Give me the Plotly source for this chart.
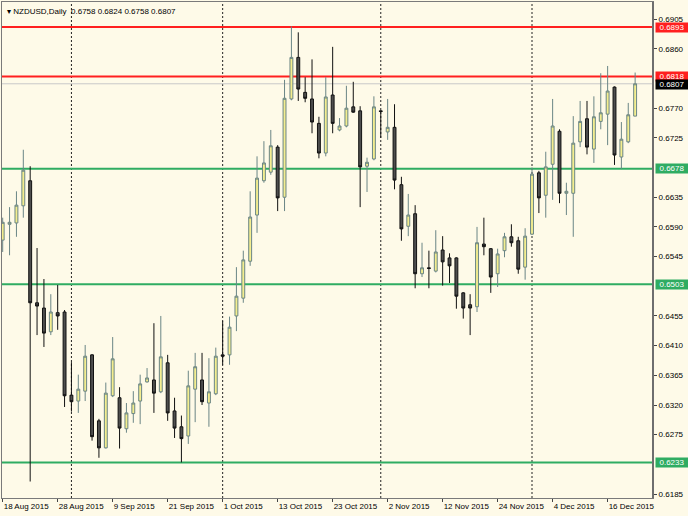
import plotly.graph_objects as go

symbol = "NZDUSD,Daily"
bars = list(range(93))
opens = [0.6570,0.6594,0.6596,0.6622,0.6660,0.6475,0.6467,0.6431,0.6460,0.6461,
         0.6335,0.6326,0.6341,0.6396,0.6296,0.6255,0.6334,0.6331,0.6284,0.6307,
         0.6326,0.6355,0.6358,0.6340,0.6384,0.6311,0.6287,0.6273,0.6344,0.6358,
         0.6323,0.6337,0.6396,0.6396,0.6455,0.6482,0.6538,0.6608,0.6660,0.6673,
         0.6711,0.6635,0.6784,0.6847,0.6794,0.6784,0.6747,0.6702,0.6790,0.6737,
         0.6743,0.6772,0.6766,0.6682,0.6693,0.6766,0.6734,0.6741,0.6654,0.6591,
         0.6610,0.6519,0.6528,0.6523,0.6555,0.6543,0.6543,0.6490,0.6472,0.6469,
         0.6564,0.6557,0.6519,0.6554,0.6575,0.6569,0.6529,0.6579,0.6672,0.6638,
         0.6685,0.6735,0.6641,0.6641,0.6719,0.6754,0.6708,0.6750,0.6761,0.6802,
         0.6696,0.6719,0.6758]
highs = [0.6604,0.6620,0.6644,0.6707,0.6682,0.6558,0.6511,0.6488,0.6502,0.6464,
         0.6385,0.6366,0.6411,0.6397,0.6299,0.6354,0.6423,0.6347,0.6323,0.6341,
         0.6366,0.6376,0.6444,0.6455,0.6396,0.6331,0.6304,0.6372,0.6399,0.6399,
         0.6391,0.6407,0.6447,0.6454,0.6529,0.6554,0.6644,0.6697,0.6720,0.6737,
         0.6714,0.6813,0.6894,0.6885,0.6817,0.6844,0.6757,0.6817,0.6863,0.6755,
         0.6804,0.6810,0.6773,0.6695,0.6788,0.6767,0.6784,0.6776,0.6666,0.6640,
         0.6623,0.6566,0.6554,0.6585,0.6576,0.6550,0.6544,0.6491,0.6488,0.6590,
         0.6604,0.6558,0.6557,0.6581,0.6594,0.6575,0.6588,0.6680,0.6675,0.6704,
         0.6784,0.6738,0.6657,0.6758,0.6781,0.6781,0.6788,0.6823,0.6834,0.6803,
         0.6749,0.6778,0.6824]
lows = [0.6552,0.6547,0.6575,0.6604,0.6204,0.6426,0.6408,0.6426,0.6434,0.6317,
        0.6310,0.6308,0.6326,0.6266,0.6240,0.6254,0.6332,0.6254,0.6278,0.6293,
        0.6291,0.6354,0.6308,0.6338,0.6296,0.6270,0.6233,0.6261,0.6294,0.6320,
        0.6287,0.6335,0.6381,0.6381,0.6432,0.6475,0.6531,0.6581,0.6657,0.6669,
        0.6614,0.6614,0.6782,0.6781,0.6779,0.6732,0.6694,0.6697,0.6732,0.6735,
        0.6741,0.6763,0.6620,0.6643,0.6691,0.6725,0.6722,0.6647,0.6569,0.6576,
        0.6497,0.6514,0.6497,0.6521,0.6501,0.6505,0.6466,0.6451,0.6426,0.6461,
        0.6547,0.6490,0.6499,0.6544,0.6560,0.6519,0.6510,0.6578,0.6611,0.6604,
        0.6631,0.6626,0.6608,0.6575,0.6711,0.6700,0.6687,0.6738,0.6714,0.6684,
        0.6678,0.6717,0.6758]
closes = [0.6597,0.6597,0.6623,0.6676,0.6475,0.6470,0.6429,0.6461,0.6455,0.6334,
          0.6325,0.6344,0.6394,0.6272,0.6255,0.6338,0.6390,0.6285,0.6308,0.6323,
          0.6352,0.6361,0.6338,0.6393,0.6308,0.6285,0.6269,0.6349,0.6378,0.6325,
          0.6340,0.6394,0.6394,0.6438,0.6485,0.6540,0.6605,0.6664,0.6687,0.6713,
          0.6634,0.6785,0.6847,0.6799,0.6785,0.6749,0.6702,0.6787,0.6747,0.6743,
          0.6770,0.6764,0.6681,0.6688,0.6772,0.6765,0.6741,0.6661,0.6587,0.6608,
          0.6519,0.6528,0.6527,0.6552,0.6537,0.6531,0.6485,0.6467,0.6467,0.6566,
          0.6560,0.6514,0.6549,0.6575,0.6566,0.6526,0.6576,0.6670,0.6634,0.6681,
          0.6743,0.6641,0.6644,0.6717,0.6750,0.6711,0.6757,0.6763,0.6796,0.6699,
          0.6723,0.6760,0.6807]

tick_bars = [0, 8, 16, 24, 32, 40, 48, 56, 64, 72, 80, 88]
tick_labels = ["18 Aug 2015", "28 Aug 2015", "9 Sep 2015", "21 Sep 2015",
               "1 Oct 2015", "13 Oct 2015", "23 Oct 2015", "2 Nov 2015",
               "12 Nov 2015", "24 Nov 2015", "4 Dec 2015", "16 Dec 2015"]
separator_bars = [10, 32, 55, 77]
# scale labels that stay visible (the others sit under the level boxes)
price_ticks = [0.6185, 0.6275, 0.6320, 0.6365, 0.6410, 0.6455,
               0.6545, 0.6590, 0.6635, 0.6725, 0.6770, 0.6860, 0.6905]
resistance = [0.6893, 0.6818]
support = [0.6678, 0.6503, 0.6233]
last_price = closes[-1]

FONT = "Liberation Sans"
BG = "#fefae8"
RED = "#ff1f1f"
GREEN = "#2fac62"

fig = go.Figure()
fig.add_trace(go.Candlestick(
    x=bars, open=opens, high=highs, low=lows, close=closes,
    increasing=dict(line=dict(color="#6a8585", width=1), fillcolor="#f4ee8f"),
    decreasing=dict(line=dict(color="#111111", width=1), fillcolor="#4e4e4e"),
    hoverinfo="skip", showlegend=False,
))

shapes = []
for b in separator_bars:
    shapes.append(dict(type="line", xref="x", yref="paper", x0=b, x1=b, y0=0, y1=1,
                       line=dict(color="#222222", width=1, dash="2px,2px"), layer="below"))
shapes.append(dict(type="line", xref="paper", yref="y", x0=0, x1=1, y0=last_price, y1=last_price,
                   line=dict(color="#c8c8c8", width=1), layer="below"))
for v in resistance:
    shapes.append(dict(type="line", xref="paper", yref="y", x0=0, x1=1, y0=v, y1=v,
                       line=dict(color=RED, width=2), layer="below"))
for v in support:
    shapes.append(dict(type="line", xref="paper", yref="y", x0=0, x1=1, y0=v, y1=v,
                       line=dict(color=GREEN, width=2), layer="below"))
shapes.append(dict(type="line", xref="paper", yref="paper", x0=1, x1=1, y0=0, y1=1,
                   line=dict(color="#6e6e6e", width=2)))

annotations = []
def price_box(v, color, yshift=0):
    annotations.append(dict(x=1, xref="paper", y=v, yref="y", xanchor="left", yanchor="middle",
                            xshift=2, yshift=yshift, text=f"{v:.4f}", showarrow=False,
                            font=dict(family=FONT, size=8, color="white"),
                            bgcolor=color, borderpad=0, width=32, height=9))
for v in resistance:
    price_box(v, RED)
price_box(last_price, "#000000", yshift=-1)
for v in support:
    price_box(v, GREEN)

annotations.append(dict(x=0, xref="paper", y=1, yref="paper", xanchor="left", yanchor="top",
                        xshift=3, yshift=-3, showarrow=False,
                        text=f"▾ {symbol}  {opens[-1]:.4f} {highs[-1]:.4f} {lows[-1]:.4f} {closes[-1]:.4f}",
                        font=dict(family=FONT, size=8, color="#000000")))

fig.update_layout(
    width=688, height=516,
    margin=dict(l=2, r=35, t=2, b=18),
    paper_bgcolor=BG, plot_bgcolor=BG,
    shapes=shapes, annotations=annotations,
    boxgap=0.4,
    showlegend=False,
    font=dict(family=FONT, size=8, color="#000000"),
)
fig.update_xaxes(
    range=[-0.1, 94.6], rangeslider=dict(visible=False),
    tickmode="array", tickvals=tick_bars, ticktext=tick_labels,
    ticks="outside", ticklen=3, tickcolor="#444444",
    ticklabelposition="outside right",
    showgrid=False, zeroline=False,
    showline=True, linecolor="#7a7a7a", linewidth=1, mirror=True,
    tickfont=dict(family=FONT, size=8, color="#000000"),
)
fig.update_yaxes(
    range=[0.6179, 0.6931], side="right",
    tickmode="array", tickvals=price_ticks, tickformat=".4f",
    ticks="outside", ticklen=3, tickcolor="#444444",
    showgrid=False, zeroline=False,
    showline=True, linecolor="#7a7a7a", linewidth=1, mirror=True,
    tickfont=dict(family=FONT, size=8, color="#000000"),
)

fig.write_html("out.html", config={"displayModeBar": False},
               post_script="document.body.style.margin='0px';document.body.style.background='%s';" % BG)
